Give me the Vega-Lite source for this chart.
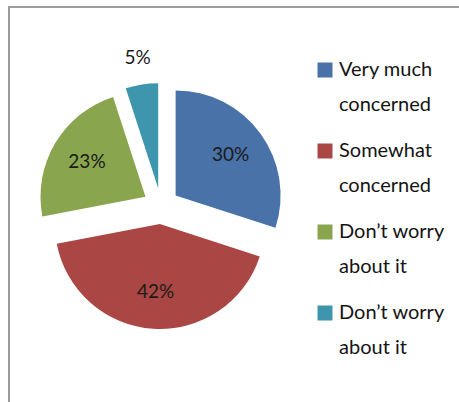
{
  "$schema": "https://vega.github.io/schema/vega-lite/v6.json",
  "width": 456,
  "height": 401,
  "autosize": {"type": "none"},
  "padding": {"left": 9, "top": 7, "right": -6, "bottom": -6},
  "background": "white",
  "view": {"stroke": "#9c9c9c", "strokeWidth": 2},
  "config": {
    "view": {"stroke": "#9c9c9c", "strokeWidth": 2},
    "font": "Lato",
    "style": {
      "view": {"stroke": "#9c9c9c", "strokeWidth": 2},
      "guide-label": {"lineHeight": 35}
    }
  },
  "data": {
    "values": [
      {"rank": 1, "category": "Very much concerned", "value": 30, "pct": "30%"},
      {"rank": 2, "category": "Somewhat concerned", "value": 42, "pct": "42%"},
      {"rank": 3, "category": "Don’t worry about it", "value": 23, "pct": "23%"},
      {"rank": 4, "category": "Don’t worry about it", "value": 5, "pct": "5%"}
    ]
  },
  "transform": [
    {"stack": "value", "groupby": [], "sort": [{"field": "rank", "order": "ascending"}], "as": ["start", "end"]}
  ],
  "layer": [
    {
      "transform": [{"filter": "datum.rank == 1"}],
      "mark": {"type": "arc", "outerRadius": 105, "x": 152, "y": 199, "xOffset": 14.6, "yOffset": -10.6},
      "encoding": {
        "theta": {"field": "start", "type": "quantitative", "scale": {"domain": [0, 100]}},
        "theta2": {"field": "end"},
        "color": {
          "field": "rank", "type": "nominal",
          "scale": {"domain": [1, 2, 3, 4], "range": ["#4872A8", "#AA4643", "#89A54E", "#3D96AE"]},
          "legend": {
            "title": null, "orient": "none", "direction": "vertical",
            "legendX": 306, "legendY": 53,
            "symbolType": "square", "symbolSize": 225, "symbolStrokeWidth": 0,
            "labelFont": "Lato", "labelFontSize": 20, "labelColor": "#141414",
            "labelOffset": 4, "labelLimit": 200, "rowPadding": 26,
            "labelBaseline": "middle",
            "labelExpr": "datum.value == 1 ? ['Very much', 'concerned'] : datum.value == 2 ? ['Somewhat', 'concerned'] : ['Don’t worry', 'about it']"
          }
        }
      }
    },
    {
      "transform": [{"filter": "datum.rank == 2"}],
      "mark": {"type": "arc", "outerRadius": 105, "x": 152, "y": 199, "xOffset": -1.1, "yOffset": 18},
      "encoding": {
        "theta": {"field": "start", "type": "quantitative", "scale": {"domain": [0, 100]}},
        "theta2": {"field": "end"},
        "color": {"field": "rank", "type": "nominal"}
      }
    },
    {
      "transform": [{"filter": "datum.rank == 3"}],
      "mark": {"type": "arc", "outerRadius": 105, "x": 152, "y": 199, "xOffset": -15.5, "yOffset": -9.2},
      "encoding": {
        "theta": {"field": "start", "type": "quantitative", "scale": {"domain": [0, 100]}},
        "theta2": {"field": "end"},
        "color": {"field": "rank", "type": "nominal"}
      }
    },
    {
      "transform": [{"filter": "datum.rank == 4"}],
      "mark": {"type": "arc", "outerRadius": 105, "x": 152, "y": 199, "xOffset": -2.8, "yOffset": -17.8},
      "encoding": {
        "theta": {"field": "start", "type": "quantitative", "scale": {"domain": [0, 100]}},
        "theta2": {"field": "end"},
        "color": {"field": "rank", "type": "nominal"}
      }
    },
    {
      "mark": {"type": "text", "x": 152, "y": 199, "radius": 86, "font": "Lato", "fontSize": 19, "fill": "#1a1a1a"},
      "encoding": {
        "theta": {"field": "value", "type": "quantitative", "stack": true},
        "order": {"field": "rank", "type": "quantitative"},
        "detail": {"field": "rank", "type": "nominal"},
        "text": {"condition": {"test": "datum.value < 10", "value": ""}, "field": "pct", "type": "nominal"}
      }
    },
    {
      "mark": {"type": "text", "x": 152, "y": 199, "radius": 150, "font": "Lato", "fontSize": 19, "fill": "#1a1a1a"},
      "encoding": {
        "theta": {"field": "value", "type": "quantitative", "stack": true},
        "order": {"field": "rank", "type": "quantitative"},
        "detail": {"field": "rank", "type": "nominal"},
        "text": {"condition": {"test": "datum.value >= 10", "value": ""}, "field": "pct", "type": "nominal"}
      }
    }
  ]
}
